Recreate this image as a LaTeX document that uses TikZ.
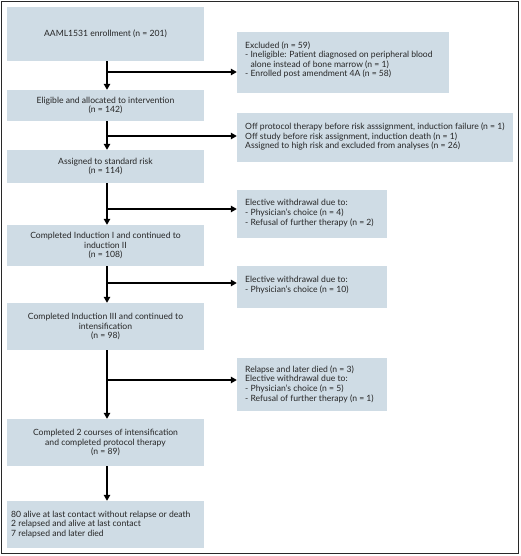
\documentclass[tikz,border=0pt]{standalone}
\usepackage{fontspec}
\setmainfont{Lato}
\usetikzlibrary{arrows.meta}
\definecolor{boxfill}{RGB}{207,220,229}
\definecolor{frame}{RGB}{40,40,40}
\begin{document}
\begin{tikzpicture}[x=1pt,y=-1pt,
  every node/.style={font=\fontsize{8.6}{9.6}\selectfont, text=black!85},
  mainbox/.style={fill=boxfill, draw=none, minimum width=197pt, align=center, inner sep=0pt},
  sidebox/.style={fill=boxfill, draw=none, align=left, inner sep=0pt},
  arr/.style={line width=1.2pt, -{Triangle[length=6pt,width=6.5pt]}},
  ln/.style={line width=1.2pt}]
\useasboundingbox (0,0) rectangle (520,556);
\draw[frame, line width=1.3pt] (1.2,1.2) rectangle (518.8,553.5);

% left column boxes
\node[mainbox, minimum height=54pt] (b1) at (105.5,34) {AAML1531 enrollment (n = 201)};
\node[mainbox, minimum height=31pt] (b2) at (105.5,105.5) {Eligible and allocated to intervention\\(n = 142)};
\node[mainbox, minimum height=33pt] (b3) at (105.5,166.5) {Assigned to standard risk\\(n = 114)};
\node[mainbox, minimum height=41pt] (b4) at (105.5,245.5) {Completed Induction I and continued to\\induction II\\(n = 108)};
\node[mainbox, minimum height=47pt] (b5) at (105.5,326.5) {Completed Induction III and continued to\\intensification\\(n = 98)};
\node[mainbox, minimum height=47pt] (b6) at (105.5,442.5) {Completed 2 courses of intensification\\and completed protocol therapy\\(n = 89)};
\node[fill=boxfill, minimum width=197pt, minimum height=47pt, inner sep=0pt] (b7) at (105.5,524.5) {};
\node[anchor=west, align=left, inner sep=0pt] (b7t) at (11,524.5) {80 alive at last contact without relapse or death\\2 relapsed and alive at last contact\\7 relapsed and later died};

% right column boxes
\node[sidebox, minimum width=212pt, minimum height=61pt] (r1) at (343,62.5) {};
\node[anchor=west, align=left, inner sep=0pt] (r1t) at (245,60) {Excluded (n = 59)\\- Ineligible: Patient diagnosed on peripheral blood\\\phantom{- }alone instead of bone marrow (n = 1)\\- Enrolled post amendment 4A (n = 58)};
\node[sidebox, minimum width=276pt, minimum height=49pt] (r2) at (375,137.5) {};
\node[anchor=west, align=left, inner sep=0pt] (r2t) at (245,136.5) {Off protocol therapy before risk asssignment, induction failure (n = 1)\\Off study before risk assignment, induction death (n = 1)\\Assigned to high risk and excluded from analyses (n = 26)};
\node[sidebox, minimum width=150pt, minimum height=48pt] (r3) at (312,214) {};
\node[anchor=west, align=left, inner sep=0pt] (r3t) at (245,213) {Elective withdrawal due to:\\- Physician's choice (n = 4)\\- Refusal of further therapy (n = 2)};
\node[sidebox, minimum width=150pt, minimum height=42pt] (r4) at (312,287) {};
\node[anchor=west, align=left, inner sep=0pt] (r4t) at (245,285) {Elective withdrawal due to:\\- Physician's choice (n = 10)};
\node[sidebox, minimum width=150pt, minimum height=53pt] (r5) at (312,384.5) {};
\node[anchor=west, align=left, inner sep=0pt] (r5t) at (245,384) {Relapse and later died (n = 3)\\Elective withdrawal due to:\\- Physician's choice (n = 5)\\- Refusal of further therapy (n = 1)};

% branch points
\coordinate (j1) at (107,72);
\coordinate (j2) at (107,136);
\coordinate (j3) at (107,209);
\coordinate (j4) at (107,283);
\coordinate (j5) at (107,380);

% connectors
\draw[arr] (b1.south -| j1) -- (b2.north -| j1);
\draw[arr] (j1) -- (j1 -| r1.west);
\draw[arr] (b2.south -| j2) -- (b3.north -| j2);
\draw[arr] (j2) -- (j2 -| r2.west);
\draw[arr] (b3.south -| j3) -- (b4.north -| j3);
\draw[arr] (j3) -- (j3 -| r3.west);
\draw[arr] (b4.south -| j4) -- (b5.north -| j4);
\draw[arr] (j4) -- (j4 -| r4.west);
\draw[arr] (b5.south -| j5) -- (b6.north -| j5);
\draw[arr] (j5) -- (j5 -| r5.west);
\draw[arr] (b6.south -| j5) -- (b7.north -| j5);
\end{tikzpicture}
\end{document}
